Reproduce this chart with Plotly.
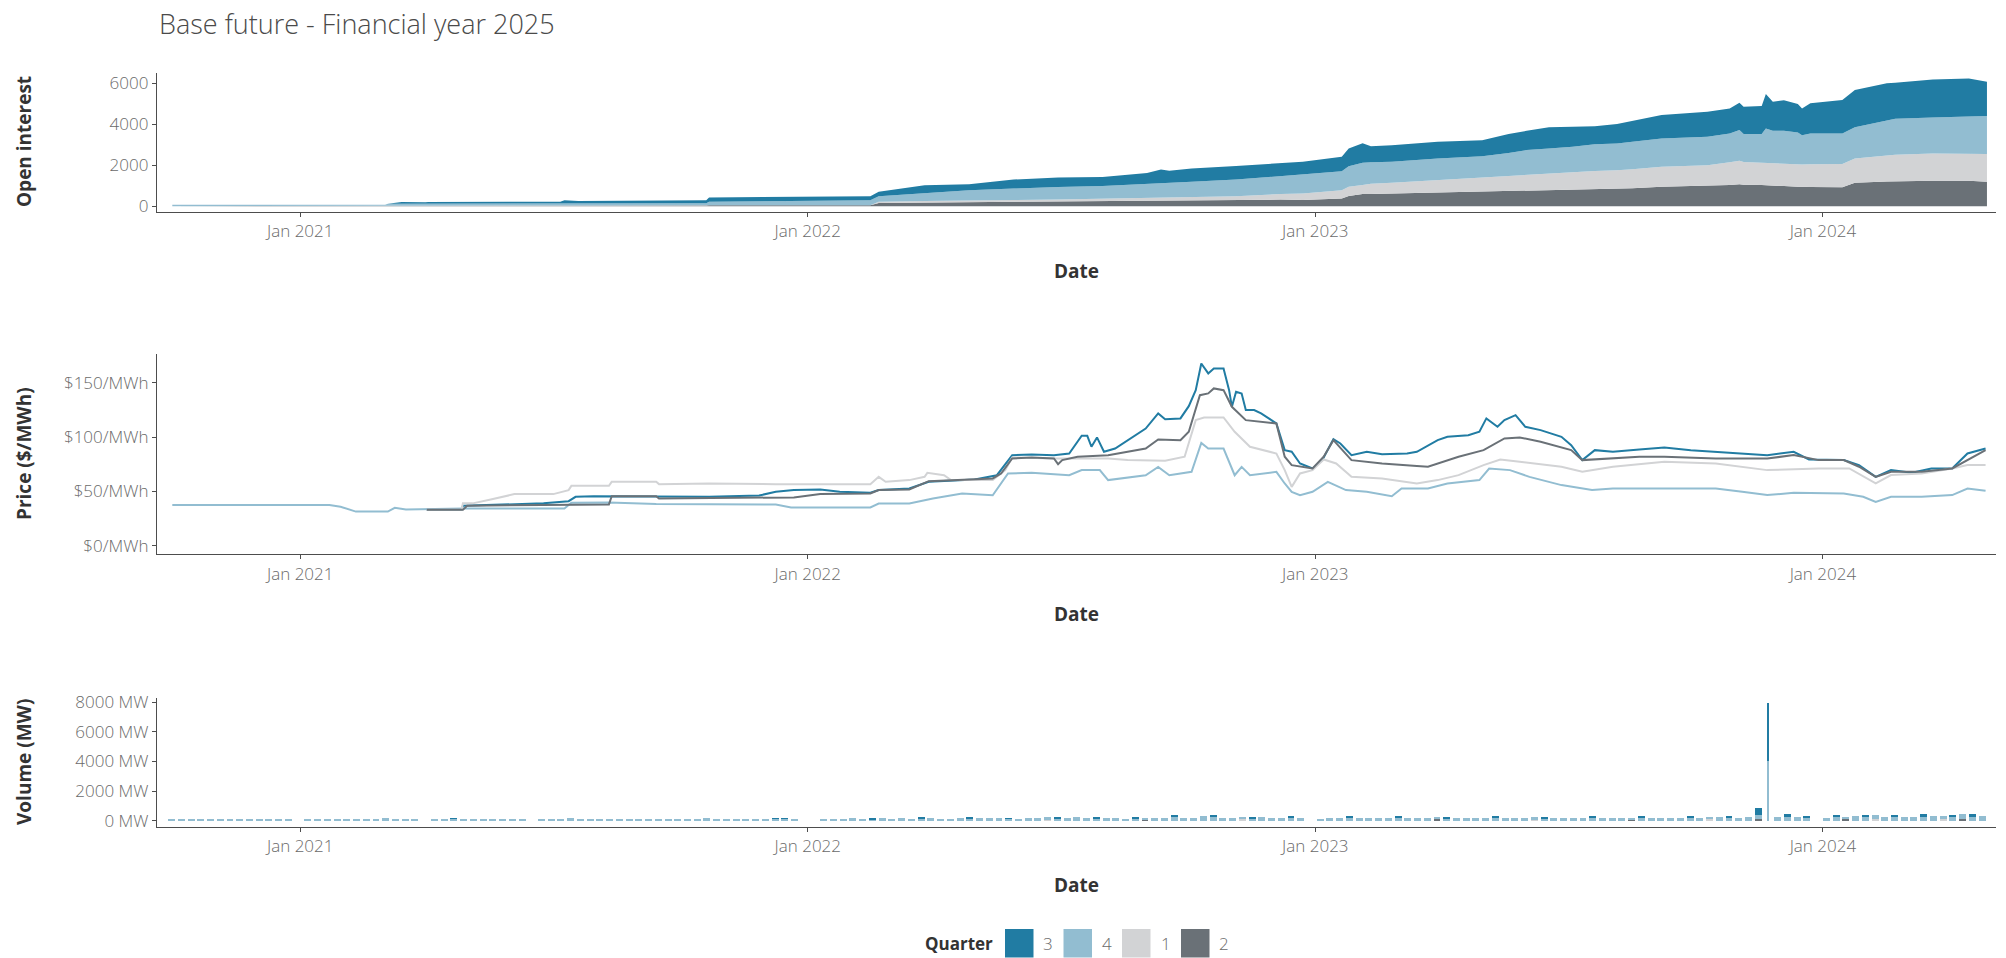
import plotly.graph_objects as go
import pandas as pd

# ---------------- data ----------------
quarters = ["3", "4", "1", "2"]
colors = {"3": "#217ca3", "4": "#92bdd1", "1": "#d2d3d5", "2": "#6a7177"}
year_ticks = ["2021-01-01", "2022-01-01", "2023-01-01", "2024-01-01"]
year_labels = ["Jan 2021", "Jan 2022", "Jan 2023", "Jan 2024"]

# Open interest (stacked area), by quarter
oi_dates = ["2020-10-01","2021-03-03","2021-03-05","2021-03-15","2021-04-01","2021-04-03","2021-07-07","2021-07-10",
            "2021-07-20","2021-10-20","2021-10-22","2022-02-15","2022-02-21","2022-03-26","2022-04-27","2022-05-29",
            "2022-06-30","2022-08-01","2022-09-02","2022-09-12","2022-09-18","2022-10-04","2022-11-05","2022-12-07",
            "2022-12-23","2023-01-20","2023-01-25","2023-02-04","2023-02-10","2023-02-25","2023-03-30","2023-05-01",
            "2023-05-20","2023-06-02","2023-06-18","2023-07-05","2023-07-21","2023-08-06","2023-08-17","2023-09-07",
            "2023-10-10","2023-10-26","2023-11-02","2023-11-05","2023-11-18","2023-11-21","2023-11-26","2023-12-04",
            "2023-12-14","2023-12-17","2023-12-23","2024-01-15","2024-01-24","2024-02-16","2024-02-22","2024-03-20",
            "2024-04-15","2024-04-28"]
oi_q2 = [0,0,0,0,0,30,30,30,30,35,40,40,160,180,210,230,250,270,290,295,300,300,310,320,300,375,500,590,600,620,
         650,700,730,750,770,800,820,850,870,945,1000,1040,1076,1050,1030,1027,1000,980,945,940,935,930,1140,1200,
         1210,1240,1240,1190]
oi_q1 = [0,0,0,0,0,5,5,5,5,10,10,10,50,70,80,70,70,90,130,130,130,155,180,270,320,405,450,440,500,520,620,730,
         750,770,830,880,900,910,930,980,1005,1100,1140,1110,1090,1092,1080,1070,1110,1100,1110,1125,1190,1250,
         1300,1330,1330,1360]
oi_q4 = [70,70,120,120,110,95,95,105,95,95,160,240,280,390,490,560,620,620,680,685,710,735,810,880,900,920,1000,
         1090,1040,1030,1060,1010,1120,1220,1220,1220,1300,1300,1350,1385,1385,1410,1500,1360,1400,1680,1600,1630,
         1545,1430,1500,1500,1520,1750,1760,1760,1810,1850]
oi_q3 = [0,0,0,80,80,70,90,150,120,150,210,200,210,380,290,440,460,450,520,680,590,650,660,650,650,710,870,950,
         790,810,820,780,920,940,1030,980,890,950,1020,1140,1220,1220,1340,1340,1370,1680,1420,1500,1390,1300,1480,
         1630,1820,1800,1760,1860,1860,1680]

# Price ($/MWh), by quarter
p3_dates = ["2021-04-02","2021-04-27","2021-04-28","2021-06-25","2021-07-13","2021-07-18","2021-07-31","2021-09-14",
            "2021-10-22","2021-11-27","2021-12-09","2021-12-22","2022-01-10","2022-01-24","2022-02-15","2022-02-21",
            "2022-03-15","2022-03-29","2022-04-17","2022-05-01","2022-05-17","2022-05-28","2022-06-11","2022-06-27",
            "2022-07-08","2022-07-17","2022-07-21","2022-07-24","2022-07-28","2022-08-02","2022-08-10","2022-08-19",
            "2022-09-01","2022-09-10","2022-09-15","2022-09-26","2022-10-02","2022-10-07","2022-10-11","2022-10-16",
            "2022-10-20","2022-10-27","2022-10-31","2022-11-02","2022-11-05","2022-11-09","2022-11-12","2022-11-18",
            "2022-11-23","2022-12-04","2022-12-10","2022-12-15","2022-12-21","2022-12-30","2023-01-06","2023-01-14",
            "2023-01-19","2023-01-27","2023-02-07","2023-02-18","2023-03-08","2023-03-15","2023-03-30","2023-04-06",
            "2023-04-21","2023-04-29","2023-05-04","2023-05-12","2023-05-17","2023-05-25","2023-06-01","2023-06-12",
            "2023-06-27","2023-07-04","2023-07-12","2023-07-21","2023-08-03","2023-08-22","2023-09-09","2023-09-28",
            "2023-10-16","2023-11-04","2023-11-22","2023-12-11","2023-12-22","2024-01-16","2024-01-27","2024-02-08",
            "2024-02-19","2024-03-05","2024-03-19","2024-04-03","2024-04-14","2024-04-27"]
p3 = [33.1,33.1,36.9,39.1,41.1,45.1,45.7,45.7,45.1,46.3,49.7,51.3,51.9,49.7,48.8,51.3,52.8,59.0,59.8,61.0,65.0,
      83.5,84.0,83.5,85.0,101.3,101.3,91.2,99.8,86.6,89.6,97.3,108.0,121.9,116.6,117.3,128.6,143.3,167.9,158.7,
      163.3,163.3,143.3,128.0,141.8,140.3,125.0,125.0,121.9,112.7,88.1,86.6,75.8,71.2,78.9,98.2,94.2,83.5,86.6,
      84.4,85.0,86.6,97.3,100.4,101.9,105.0,117.3,109.6,115.7,120.3,109.6,106.5,100.4,92.7,78.9,88.1,86.6,88.7,
      90.6,88.1,86.6,85.0,83.5,86.6,79.5,78.9,74.3,63.5,69.7,67.2,71.2,71.2,85.0,89.6]

p4_dates = ["2020-10-01","2021-01-22","2021-01-30","2021-02-10","2021-03-05","2021-03-10","2021-03-18","2021-04-28",
            "2021-07-10","2021-07-15","2021-08-11","2021-09-14","2021-12-09","2021-12-20","2022-02-15","2022-02-21",
            "2022-03-15","2022-04-01","2022-04-22","2022-05-14","2022-05-25","2022-06-11","2022-07-08","2022-07-17",
            "2022-07-30","2022-08-05","2022-09-01","2022-09-10","2022-09-18","2022-10-04","2022-10-11","2022-10-16",
            "2022-10-27","2022-11-04","2022-11-09","2022-11-15","2022-12-04","2022-12-10","2022-12-15","2022-12-21",
            "2022-12-30","2023-01-10","2023-01-23","2023-02-07","2023-02-25","2023-03-04","2023-03-23","2023-04-06",
            "2023-04-29","2023-05-06","2023-05-21","2023-06-04","2023-06-27","2023-07-19","2023-08-03","2023-10-16",
            "2023-11-04","2023-11-22","2023-12-11","2024-01-16","2024-01-30","2024-02-08","2024-02-19","2024-03-12",
            "2024-04-03","2024-04-14","2024-04-27"]
p4 = [37.5,37.5,36.0,31.5,31.5,35.0,33.5,34.4,34.4,39.6,39.9,38.4,38.0,35.3,35.3,38.9,38.9,43.6,48.2,46.6,66.6,
      67.2,65.0,69.7,69.7,60.5,65.0,72.7,65.0,68.1,94.8,89.6,89.6,65.0,72.7,65.0,68.1,57.4,49.7,46.6,49.7,58.9,
      51.3,49.7,45.7,52.8,52.8,57.4,60.5,71.2,69.7,63.5,55.9,51.3,52.8,52.8,49.7,46.7,48.8,48.2,45.1,40.5,45.1,
      45.1,46.7,52.8,50.6]

p1_dates = ["2021-04-02","2021-04-27","2021-04-28","2021-05-05","2021-05-18","2021-06-04","2021-07-02","2021-07-13",
            "2021-07-15","2021-08-11","2021-08-13","2021-09-14","2021-09-16","2021-10-22","2021-12-09","2022-02-15",
            "2022-02-21","2022-02-26","2022-03-15","2022-03-26","2022-03-28","2022-04-09","2022-04-14","2022-05-14",
            "2022-05-23","2022-05-28","2022-06-27","2022-08-05","2022-08-19","2022-09-15","2022-09-29","2022-10-07",
            "2022-10-13","2022-10-27","2022-11-04","2022-11-15","2022-12-04","2022-12-10","2022-12-15","2022-12-21",
            "2022-12-30","2023-01-07","2023-01-16","2023-01-27","2023-02-18","2023-03-15","2023-03-30","2023-04-14",
            "2023-05-02","2023-05-14","2023-05-28","2023-06-27","2023-07-12","2023-08-03","2023-09-09","2023-10-16",
            "2023-11-22","2023-12-29","2024-01-20","2024-02-08","2024-02-19","2024-03-12","2024-04-03","2024-04-14",
            "2024-04-27"]
p1 = [33.1,33.1,39.1,39.1,42.7,47.6,47.6,51.3,55.2,55.2,58.9,58.9,56.8,57.4,56.8,56.8,63.5,59.0,60.5,63.5,67.2,
      65.0,60.5,60.5,69.7,81.3,80.4,80.4,78.9,78.3,82.0,115.7,118.2,118.2,105.0,91.2,85.0,69.7,54.3,66.6,69.7,
      79.5,75.8,63.5,62.0,57.4,60.5,65.1,74.3,79.5,77.4,72.8,68.2,72.8,77.4,75.8,69.7,71.2,71.2,57.4,65.1,66.6,
      71.2,74.3,74.3]

p2_dates = ["2021-04-02","2021-04-28","2021-05-01","2021-07-13","2021-08-11","2021-08-13","2021-09-14","2021-09-16",
            "2021-12-09","2021-12-22","2022-01-10","2022-02-15","2022-02-21","2022-03-15","2022-03-29","2022-04-17",
            "2022-05-14","2022-05-20","2022-05-28","2022-06-11","2022-06-27","2022-06-30","2022-07-03","2022-07-14",
            "2022-08-05","2022-09-01","2022-09-10","2022-09-26","2022-10-02","2022-10-10","2022-10-16","2022-10-20",
            "2022-10-27","2022-11-02","2022-11-12","2022-12-04","2022-12-10","2022-12-15","2022-12-30","2023-01-07",
            "2023-01-14","2023-01-27","2023-02-18","2023-03-15","2023-03-23","2023-04-14","2023-05-02","2023-05-17",
            "2023-05-28","2023-06-12","2023-07-04","2023-07-12","2023-08-03","2023-08-22","2023-09-09","2023-10-16",
            "2023-11-22","2023-12-11","2023-12-29","2024-01-16","2024-01-27","2024-02-08","2024-02-19","2024-03-12",
            "2024-04-03","2024-04-14","2024-04-27"]
p2 = [33.1,33.1,36.9,38.1,38.1,45.7,45.7,43.6,44.6,44.6,47.6,48.2,51.3,51.9,59.5,60.5,62.0,66.6,80.4,81.3,80.4,
      75.2,78.9,82.0,83.5,89.6,97.9,97.3,105.0,138.7,140.3,144.9,143.3,128.0,115.7,112.7,82.0,74.3,71.2,82.0,
      97.3,78.9,75.8,73.4,72.8,82.0,88.1,98.9,99.8,95.8,88.1,78.9,80.4,82.0,82.0,80.4,80.4,83.5,78.9,78.9,72.8,
      63.5,68.2,68.2,71.2,78.9,88.1]

# Volume (MW), weekly, week 0 = week of 2020-09-28, 187 weeks
vol_q4 = (
    [80, 90, 90, 90, 90, 90, 90, 90, 90, 90, 90, 90, 90, 0]                                   # 2020
    + [90, 90, 90, 90, 90, 90, 90, 90, 150, 90, 90, 90, 0, 90, 90, 120, 90, 90, 90, 90, 90, 90,
       90, 0, 90, 90, 90, 150, 90, 90, 90, 90, 90, 90, 90, 90, 90, 90, 90, 90, 90, 150, 90, 90,
       90, 90, 90, 90, 120, 120, 90, 0]                                                       # 2021
    + [0, 100, 120, 100, 150, 120, 100, 150, 100, 180, 120, 150, 200, 120, 100, 150, 120, 150,
       200, 150, 120, 100, 180, 150, 200, 120, 150, 250, 150, 120, 150, 200, 120, 150, 100, 150,
       200, 250, 150, 200, 300, 250, 200, 150, 200, 150, 250, 200, 150, 200, 150, 0]           # 2022
    + [100, 200, 150, 200, 150, 200, 150, 150, 200, 200, 200, 150, 200, 150, 200, 200, 200, 150,
       200, 150, 200, 200, 200, 150, 200, 150, 150, 200, 200, 200, 150, 200, 150, 200, 200, 200,
       150, 200, 200, 200, 200, 250, 200, 200, 250, 300, 4000, 250, 300, 250, 200, 0]          # 2023
    + [150, 250, 200, 300, 250, 300, 250, 300, 250, 250, 300, 300, 250, 300, 350, 300, 300]    # 2024
)
vol_q3_idx = [29, 62, 63, 72, 77, 82, 86, 91, 95, 99, 103, 107, 111, 115, 121, 126, 131, 136, 141,
              146, 151, 156, 160, 163, 164, 166, 168, 171, 174, 177, 180, 183, 185]
vol_q3 = [60, 50, 50, 60, 50, 80, 60, 90, 80, 60, 120, 90, 80, 60, 80, 60, 100, 80, 60,
          100, 80, 120, 100, 500, 3900, 120, 80, 100, 120, 80, 120, 100, 120]
vol_q1_idx = [90, 110, 140, 158, 175, 182]
vol_q1 = [60, 80, 60, 80, 100, 80]
vol_q2_idx = [100, 130, 150, 163, 172, 184]
vol_q2 = [60, 80, 60, 80, 80, 100]

assert len(oi_dates) == len(oi_q2) == len(oi_q1) == len(oi_q4) == len(oi_q3)
assert len(p3_dates) == len(p3) and len(p4_dates) == len(p4)
assert len(p1_dates) == len(p1) and len(p2_dates) == len(p2)
assert len(vol_q4) == 187

# ---------------- layout helpers ----------------
W, H = 2006, 958
L, R = 157, 10
PW = W - L - R
def pxx(px):
    return (px - L) / PW
def pxy(py):
    return 1 - py / H

FONT = "Open Sans"
TICK_FONT = dict(family=FONT, size=17, color="#6a6a6a", weight=300)
AX_TITLE_FONT = dict(family=FONT, size=19, color="#333333", weight=700)
LINE_C = "#4d4d4d"

weeks = pd.date_range("2020-09-30 12:00", periods=187, freq="7D")
DAY_MS = 86400000

fig = go.Figure()

# Open interest stacked areas (bottom -> top: 2, 1, 4, 3)
for q, vals in [("2", oi_q2), ("1", oi_q1), ("4", oi_q4), ("3", oi_q3)]:
    fig.add_trace(go.Scatter(x=oi_dates, y=vals, mode="lines", stackgroup="oi",
                             line=dict(width=0, color=colors[q]), fillcolor=colors[q],
                             name=q, showlegend=False, xaxis="x", yaxis="y"))

# Price lines (drawn 3, 4, 1, 2)
for q, d, v in [("3", p3_dates, p3), ("4", p4_dates, p4), ("1", p1_dates, p1), ("2", p2_dates, p2)]:
    fig.add_trace(go.Scatter(x=d, y=v, mode="lines", line=dict(width=2, color=colors[q]),
                             name=q, showlegend=False, xaxis="x2", yaxis="y2"))

# Volume stacked bars (bottom -> top: 2, 1, 4, 3)
SPIKE = 164
def widths(idx_list):
    return [(1.6 if i == SPIKE else 5) * DAY_MS for i in idx_list]

for q, idx, vals in [("2", vol_q2_idx, vol_q2), ("1", vol_q1_idx, vol_q1),
                     ("4", list(range(187)), vol_q4), ("3", vol_q3_idx, vol_q3)]:
    fig.add_trace(go.Bar(x=[weeks[i] for i in idx], y=vals, width=widths(idx),
                         marker=dict(color=colors[q], line=dict(width=0)),
                         name=q, showlegend=False, xaxis="x3", yaxis="y3"))

x_range = ["2020-09-20", "2024-05-04 12:00"]
xcommon = dict(type="date", range=x_range, showline=True, linecolor=LINE_C, linewidth=1.3,
               ticks="outside", ticklen=4, tickcolor=LINE_C, tickwidth=1.3,
               tickvals=year_ticks, ticktext=year_labels, tickfont=TICK_FONT,
               showgrid=False, zeroline=False, domain=[0, 1], automargin=False)
ycommon = dict(showline=True, linecolor=LINE_C, linewidth=1.3, ticks="outside", ticklen=4,
               tickcolor=LINE_C, tickwidth=1.3, tickfont=TICK_FONT, showgrid=False, zeroline=False,
               automargin=False)

fig.update_layout(
    width=W, height=H,
    margin=dict(l=L, r=R, t=0, b=0, pad=0, autoexpand=False),
    paper_bgcolor="white", plot_bgcolor="white",
    barmode="stack", bargap=0,
    showlegend=False,
    xaxis=dict(xcommon, anchor="y"),
    xaxis2=dict(xcommon, anchor="y2"),
    xaxis3=dict(xcommon, anchor="y3"),
    yaxis=dict(ycommon, anchor="x", domain=[pxy(211.7), pxy(72.7)], range=[-270, 6520],
               tickvals=[0, 2000, 4000, 6000], ticktext=["0", "2000", "4000", "6000"]),
    yaxis2=dict(ycommon, anchor="x2", domain=[pxy(554.3), pxy(354)], range=[-7.8, 176.6],
                tickvals=[0, 50, 100, 150],
                ticktext=["$0/MWh", "$50/MWh", "$100/MWh", "$150/MWh"]),
    yaxis3=dict(ycommon, anchor="x3", domain=[pxy(826.7), pxy(698.3)], range=[-385, 8250],
                tickvals=[0, 2000, 4000, 6000, 8000],
                ticktext=["0 MW", "2000 MW", "4000 MW", "6000 MW", "8000 MW"]),
)

annotations = []
# chart title
annotations.append(dict(text="Base future - Financial year 2025", x=pxx(157), y=pxy(23),
                        xref="paper", yref="paper", showarrow=False, xanchor="left", yanchor="middle",
                        font=dict(family=FONT, size=27, color="#4a4a4a", weight=300)))
# axis titles
for text, yc in [("Open interest", 142), ("Price ($/MWh)", 454), ("Volume (MW)", 762)]:
    annotations.append(dict(text=text, x=pxx(24), y=pxy(yc), xref="paper", yref="paper",
                            textangle=-90, showarrow=False, font=AX_TITLE_FONT,
                            xanchor="center", yanchor="middle"))
for yc in [271, 614, 885]:
    annotations.append(dict(text="Date", x=pxx(1076), y=pxy(yc), xref="paper", yref="paper",
                            showarrow=False, font=AX_TITLE_FONT, xanchor="center", yanchor="middle"))

# legend (manual)
annotations.append(dict(text="Quarter", x=pxx(995), y=pxy(943), xref="paper", yref="paper",
                        showarrow=False, font=dict(family=FONT, size=17, color="#333333", weight=700),
                        xanchor="right", yanchor="middle"))
shapes = []
sw_x = [1005, 1063.5, 1122, 1181]
lab_x = [1048, 1107, 1166, 1224]
for q, sx, lx in zip(quarters, sw_x, lab_x):
    shapes.append(dict(type="rect", xref="paper", yref="paper", x0=pxx(sx), x1=pxx(sx + 28.5),
                       y0=pxy(957.5), y1=pxy(929), fillcolor=colors[q], line=dict(width=0)))
    annotations.append(dict(text=q, x=pxx(lx), y=pxy(943), xref="paper", yref="paper",
                            showarrow=False, font=dict(family=FONT, size=17, color="#6a6a6a", weight=300),
                            xanchor="center", yanchor="middle"))

fig.update_layout(annotations=annotations, shapes=shapes)

# remove the default 8 px page margin so the figure fills the window exactly; no modebar
fig.write_html("out.html", config={"displayModeBar": False},
               post_script="document.body.style.margin='0';document.body.style.overflow='hidden';")
